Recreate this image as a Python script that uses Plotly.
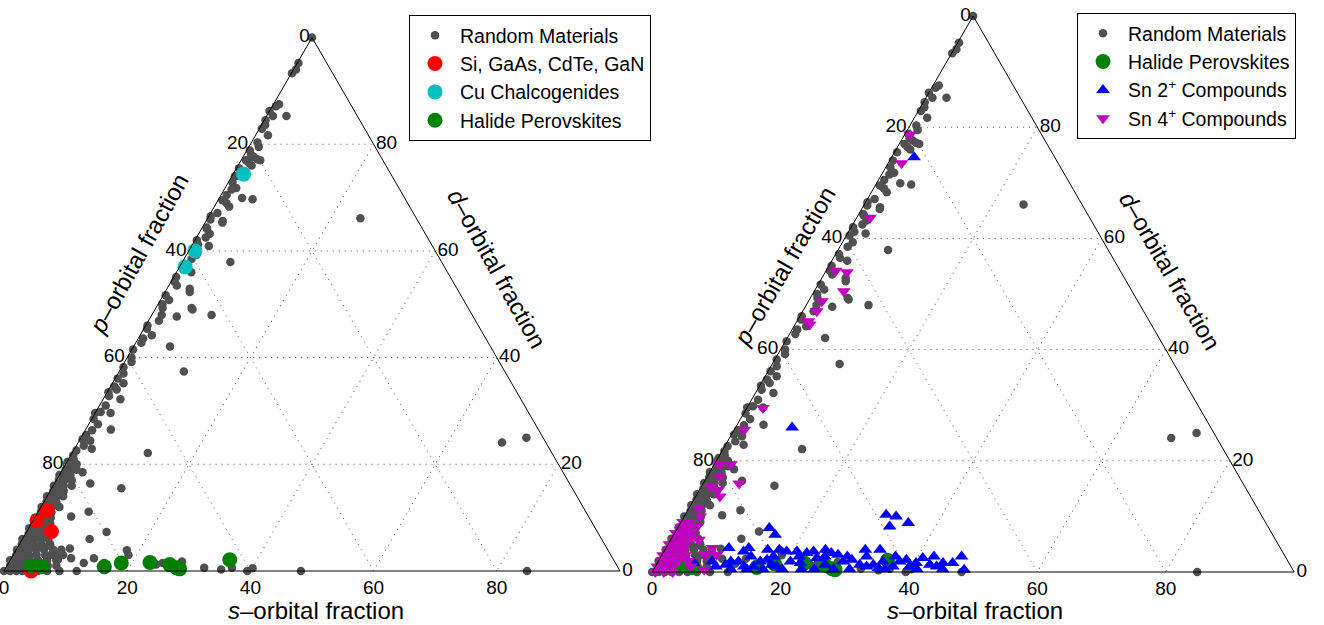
import plotly.graph_objects as go

# ---------------- data (percent: s-, d-orbital fractions; p = 100 - s - d) ----------------
# Random materials: scattered points
rand_s = [0, 0.2, 0.4, 0.1, 0.9, 0.6, 0.0, 1.0, 3.2, 0.6, 0.4, 2.0, 1.0,
          0.5, 1.1, 1.8, 2.5, 3.1, 0.8, 1.5, 2.2, 0.4,
          0.7, 1.2, 3.7, 5.5, 0.7, 1.6, 2.4, 1.1, 0.55, 2.8, 2.7, 24.8, 0.9, 0.7, 1.5, 0.3, 2.8, 0.5, 7.8, 1.2,
          0.4, 2.4, 1.0, 3.7, 0.4, 1.4, 5.8, 1.1, 4.0, 6.1, 4.2, 9.7, 1.7, 0.5, 1.9, 0.8, 5.9, 0.2, 0.7, 1.1,
          10.5, 0.4, 0.6, 1.3, 0.65, 2.8, 0.0, 0.8, 2.5, 4.1, 1.1, 0.4, 1.8, 2.8, 0.45, 12.3, 0.4, 0.1,
          68.8, 72.3, 84.9,
          3.5, 5.8, 11.3, 5.8, 8.2, 13.0, 10.9, 8.6, 8.1, 9.7, 7.7, 4.9, 6.1, 11.8, 12.2, 13.4, 15.3, 15.5,
          18.0, 18.7, 24.1, 25.0, 26.1, 28.0, 32.2, 35.1, 36.7, 39.5, 40.1, 48.2,
          0.8, 1.2, 0.6, 1.5, 0.3, 1.0, 0.2, 1.8, 0.9, 0.3, 0.9, 0.3, 1.6, 0.7, 1.3, 0.6, 0.5, 1.6, 0.9,
          1.8, 0.3, 0.9, 1.8, 0.5, 1.6, 0.2]
rand_d = [100, 95.2, 94.0, 93.3, 87.5, 87.1, 86.2, 85.3, 85.3, 83.6, 82.9, 81.7, 80.3,
          78.8, 78.0, 77.6, 77.2, 77.0, 77.0, 76.5, 76.0, 75.5,
          72.8, 71.5, 69.9, 69.7, 69.5, 69.0, 68.3, 67.1, 65.9, 65.3, 65.6, 66.1, 64.1, 64.4, 62.5, 62.0, 60.9, 60.5, 57.9, 58.5,
          55.1, 56.0, 56.5, 52.9, 51.7, 50.8, 49.3, 49.3, 52.3, 49.0, 47.7, 48.0, 46.9, 45.4, 44.2, 43.6, 42.1, 41.5, 40.0, 39.2,
          37.4, 36.1, 34.6, 34.0, 32.8, 32.2, 29.6, 29.8, 29.6, 26.5, 26.4, 24.7, 24.4, 22.9, 22.6, 22.1, 21.7, 20.5,
          24.1, 25.0, 0.0,
          18.5, 16.4, 15.5, 10.2, 11.1, 7.3, 6.0, 4.2, 3.0, 2.4, 2.1, 4.8, 3.0, 0.0, 1.5, 2.4, 0.9, 1.5,
          3.9, 3.0, 1.2, 1.5, 1.5, 1.8, 0.6, 0.3, 0.6, 0.0, 0.5, 0.0,
          21.0, 23.5, 25.5, 27.5, 28.5, 31.0, 33.5, 35.2, 37.0, 38.2, 42.8, 46.0, 48.0, 50.0, 53.5, 54.2, 57.2, 59.3, 61.2,
          63.2, 66.5, 70.5, 71.8, 74.0, 79.5, 84.5]

# Random materials: dense cluster in the p-rich corner
corner_s = [0.2, 1.0, 1.8, 0.5, 1.4, 2.3, 0.0, 0.9, 1.8, 0.4, 1.3, 2.5, 0.1, 0.9, 1.7, 3.0,
            0.5, 1.4, 2.2, 0.0, 0.8, 1.6, 2.6, 0.4, 1.2, 2.0, 0.1, 0.9, 1.8, 3.0, 0.5, 1.3, 2.2,
            0.0, 0.8, 1.7, 2.6, 0.4, 1.2, 2.1, 3.0, 0.1, 0.9, 1.8, 2.8, 0.5, 1.4, 2.3, 3.3,
            0.0, 0.9, 1.9, 3.0, 4.2, 0.4, 1.3, 2.4, 3.6, 5.0, 0.1, 1.0, 2.0, 3.2, 4.5, 6.0, 7.3,
            0.5, 1.5, 2.6, 3.8, 5.2, 7.0, 0.0, 1.0, 2.0, 3.2, 4.5, 6.0, 7.5,
            0.5, 1.5, 2.6, 3.8, 5.2, 6.6, 8.0, 0.0, 1.0, 2.0, 3.0, 4.2, 5.5, 7.0, 9.0]
corner_d = [20, 20, 20, 19, 19, 19, 18, 18, 18, 17, 17, 17, 16, 16, 16, 16,
            15, 15, 15, 14, 14, 14, 14, 13, 13, 13, 12, 12, 12, 12, 11, 11, 11,
            10, 10, 10, 10, 9, 9, 9, 9, 8, 8, 8, 8, 7, 7, 7, 7,
            6, 6, 6, 6, 6, 5, 5, 5, 5, 5, 4, 4, 4, 4, 4, 4, 4,
            3, 3, 3, 3, 3, 3, 2, 2, 2, 2, 2, 2, 2,
            1, 1, 1, 1, 1, 1, 1, 0, 0, 0, 0, 0, 0, 0, 0]

semi_s = [1.3, 0.65, 4.0, 4.4]          # Si, GaAs, CdTe, GaN
semi_d = [11.4, 9.4, 7.4, 0.0]

cu_s = [1.7, 1.0, 0.9]                  # Cu chalcogenides
cu_d = [74.4, 60.0, 57.0]

hal_s = [3.9, 5.8, 15.9, 18.3, 22.9, 26.3, 27.7, 28.3, 35.6]   # halide perovskites
hal_d = [1.0, 0.8, 0.8, 1.5, 1.6, 1.2, 0.6, 0.4, 2.1]

sn2_s = [9.8, 12.4, 12.9, 11.3, 12.5, 13.8, 15.3, 15.9, 16.8, 18.0, 18.9, 19.1, 20.7, 20.6, 22.3,
         22.4, 23.3, 24.4, 26.3, 26.2, 27.4, 28.8, 30.0, 31.7, 32.9, 33.8, 34.9, 35.0, 37.0, 37.6,
         38.5, 39.6, 40.3, 40.9, 42.6, 43.8, 44.5, 46.0, 48.4, 8.4, 9.4, 10.8,
         12.0, 14.5, 17.0, 20.0, 23.0, 25.0, 28.0, 30.5, 36.0, 41.0, 45.0,
         14.0, 17.5, 21.5, 25.5, 29.0, 32.0, 36.5, 42.5, 46.8, 16.0, 17.8, 25.0, 31.2, 33.5, 5.7,
         8.8, 14.3, 15.8, 31.3, 33.0, 32.9, 35.5, 3.5]
sn2_d = [4.3, 3.7, 4.3, 1.9, 1.9, 1.0, 1.0, 1.9, 2.2, 1.3, 1.0, 3.7, 3.7, 1.9, 1.6,
         3.4, 3.7, 2.5, 1.3, 3.4, 3.1, 1.9, 2.2, 1.3, 1.0, 1.3, 0.7, 1.9, 1.0, 1.9,
         2.2, 1.0, 1.6, 2.5, 1.3, 1.0, 1.6, 1.6, 0.4, 1.9, 1.0, 1.3,
         0.5, 0.5, 0.5, 0.5, 0.5, 0.5, 0.5, 0.5, 0.5, 0.5, 0.5,
         2.8, 2.8, 2.8, 2.8, 2.8, 2.8, 2.8, 2.8, 2.8, 4.0, 4.0, 4.0, 4.0, 4.0, 1.6,
         26.0, 7.9, 6.7, 10.3, 10.0, 8.2, 8.8, 74.6]

sn4_s = [0.8, 2.1, 2.1, 1.5, 3.4, 4.6, 2.1, 2.2, 1.8, 2.3, 2.5, 1.55, 2.6, 5.6, 1.9, 1.5, 2.9, 3.75,
         1.5, 2.5, 7.2, 7.9, 2.8, 2.9, 0.8, 3.2, 4.4, 2.6, 6.7, 8.5, 0.9,
         0.3, 1.3, 0.5, 1.5, 0.2, 1.2, 2.2, 0.6, 1.6, 0.2, 1.1, 2.1, 0.6, 1.6, 2.8,
         0.2, 1.2, 2.4, 3.6, 0.7, 1.8, 3.0, 4.6, 0.3, 1.4, 2.6, 5.5, 0.5, 1.8, 3.2]
sn4_d = [78.7, 73.5, 63.7, 54.2, 53.9, 50.5, 48.7, 46.9, 45.1, 44.5, 29.5, 25.6, 19.4, 15.9, 17.2, 15.4, 14.8, 13.6,
         11.5, 10.0, 4.3, 0.4, 6.4, 8.2, 8.2, 6.1, 5.8, 5.2, 3.1, 3.1, 19.3,
         9, 9, 8, 8, 7, 7, 7, 6, 6, 5, 5, 5, 4, 4, 4,
         3, 3, 3, 3, 2, 2, 2, 2, 1, 1, 1, 1, 0, 0, 0]

tick_vals = [20, 40, 60, 80, 100]
tick_text = ["80", "60", "40", "20", "0"]

FONT = "Liberation Sans, Arial, Helvetica, sans-serif"
GRAY = "#505050"


def tern(s, d):
    return dict(a=list(d), b=[100 - si - di for si, di in zip(s, d)], c=list(s))


def trace(s, d, name, color, size, symbol, subplot, legend):
    return go.Scatterternary(
        **tern(s, d), mode="markers", name=name, subplot=subplot, legend=legend,
        cliponaxis=False,
        marker=dict(color=color, size=size, symbol=symbol, line=dict(width=0)),
    )


all_s = rand_s + corner_s
all_d = rand_d + corner_d

fig = go.Figure()
# left panel
fig.add_trace(trace(all_s, all_d, "Random Materials", GRAY, 8.5, "circle", "ternary", "legend"))
fig.add_trace(trace(semi_s, semi_d, "Si, GaAs, CdTe, GaN", "#FF0000", 15, "circle", "ternary", "legend"))
fig.add_trace(trace(cu_s, cu_d, "Cu Chalcogenides", "#00BFBF", 15, "circle", "ternary", "legend"))
fig.add_trace(trace(hal_s, hal_d, "Halide Perovskites", "#008000", 15, "circle", "ternary", "legend"))
# right panel
fig.add_trace(trace(all_s, all_d, "Random Materials", GRAY, 8.5, "circle", "ternary2", "legend2"))
fig.add_trace(trace(hal_s, hal_d, "Halide Perovskites", "#008000", 15, "circle", "ternary2", "legend2"))
fig.add_trace(trace(sn2_s, sn2_d, "Sn 2<sup>+</sup> Compounds", "#0000FF", 12, "triangle-up", "ternary2", "legend2"))
fig.add_trace(trace(sn4_s, sn4_d, "Sn 4<sup>+</sup> Compounds", "#BF00BF", 12, "triangle-down", "ternary2", "legend2"))

axis_style = dict(
    tickmode="array", tickvals=tick_vals, ticktext=tick_text,
    showgrid=True, gridcolor="#555555", gridwidth=1, griddash="1px,5px",
    showline=True, linecolor="black", linewidth=1, ticks="", ticklen=0,
    tickfont=dict(family=FONT, size=19, color="black"), title=dict(text=""),
)


def tern_layout(xdom, ydom):
    return dict(sum=100, bgcolor="white", domain=dict(x=xdom, y=ydom),
                aaxis=axis_style, baxis=axis_style, caxis=axis_style)


legend_style = dict(font=dict(family=FONT, size=19.5, color="black"), bgcolor="white",
                    bordercolor="black", borderwidth=1, xanchor="left", yanchor="top",
                    itemwidth=40, tracegroupgap=0)

title_font = dict(family=FONT, size=24, color="black")
ann = []
for (x, y, txt, ang) in [
    (0.105, 0.594, "<i>p</i>–orbital fraction", -61),
    (0.3755, 0.5712, "<i>d</i>–orbital fraction", 61),
    (0.2387, 0.0232, "<i>s</i>–orbital fraction", 0),
    (0.5921, 0.5744, "<i>p</i>–orbital fraction", -60),
    (0.8837, 0.568, "<i>d</i>–orbital fraction", 60),
    (0.7364, 0.0232, "<i>s</i>–orbital fraction", 0),
]:
    ann.append(dict(x=x, y=y, xref="paper", yref="paper", text=txt, textangle=ang,
                    showarrow=False, font=title_font, xanchor="center", yanchor="middle"))

fig.update_layout(
    width=1324, height=625, autosize=False,
    margin=dict(l=0, r=0, t=0, b=0),
    paper_bgcolor="white", plot_bgcolor="white",
    font=dict(family=FONT, color="black"),
    ternary=tern_layout([0.0, 0.4713], [0.0864, 0.94]),
    ternary2=tern_layout([0.49, 0.98], [0.0848, 0.9744]),
    legend=dict(x=409 / 1324, y=1 - 15 / 625, **legend_style),
    legend2=dict(x=1077 / 1324, y=1 - 13 / 625, **legend_style),
    annotations=ann,
    showlegend=True,
)

fig.write_html("out.html", config={"displayModeBar": False},
               post_script="document.body.style.margin='0';")
